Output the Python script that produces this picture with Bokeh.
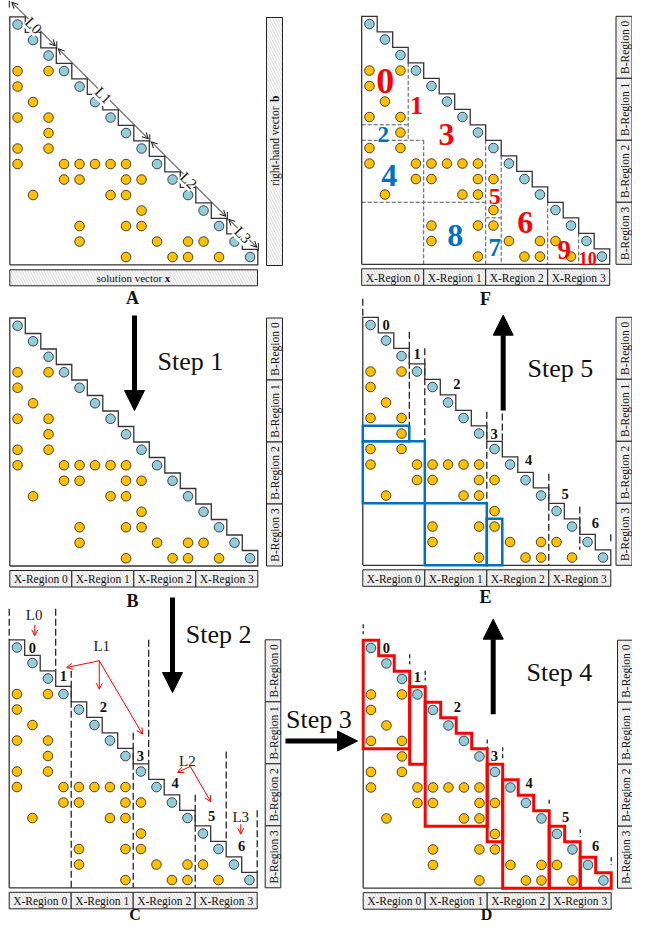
import numpy as np
from bokeh.plotting import figure
from bokeh.models import Range1d, Arrow, NormalHead, OpenHead, Label
from bokeh.core.properties import value
from bokeh.embed import file_html
from bokeh.resources import INLINE

# ---------------- data ----------------
n_size = 16
diag_rows = [0, 1, 2, 3, 4, 5, 6, 7, 8, 9, 10, 11, 12, 13, 14, 15]
diag_cols = [0, 1, 2, 3, 4, 5, 6, 7, 8, 9, 10, 11, 12, 13, 14, 15]
off_rows = [3, 3, 4, 5, 6, 6, 7, 8, 8, 9, 9, 9, 9, 9, 9, 10, 10, 10, 10,
            11, 11, 11, 12, 13, 13, 13, 14, 14, 14, 14, 15, 15, 15, 15]
off_cols = [0, 2, 0, 1, 0, 2, 2, 0, 2, 0, 3, 4, 5, 6, 7, 3, 4, 7, 8,
            1, 6, 7, 8, 4, 7, 8, 4, 9, 11, 12, 7, 10, 11, 13]

x_region_labels = ["X-Region 0", "X-Region 1", "X-Region 2", "X-Region 3"]
b_region_labels = ["B-Region 0", "B-Region 1", "B-Region 2", "B-Region 3"]
region_bounds = [0, 4, 8, 12, 16]

level_labels = ["L0", "L1", "L2", "L3"]
level_bounds = [0, 3, 9, 14, 16]

block_labels = ["0", "1", "2", "3", "4", "5", "6"]
block_col_start = [0, 3, 4, 8, 9, 12, 14]
block_col_end = [3, 4, 8, 9, 12, 14, 16]
block_row_end = [7, 8, 12, 13, 16, 16, 16]

e_col0 = [0, 0, 4, 8]
e_col1 = [3, 4, 8, 9]
e_row0 = [7, 8, 12, 13]
e_row1 = [8, 12, 16, 16]

f_labels = ["0", "1", "2", "3", "4", "5", "6", "7", "8", "9", "10"]
f_kind = ["r", "r", "b", "r", "b", "r", "r", "b", "b", "r", "r"]

step_labels = ["Step 1", "Step 2", "Step 3", "Step 4", "Step 5"]
panel_letters = ["A", "B", "C", "D", "E", "F"]

# ---------------- layout / style ----------------
CELL = 15.5
ORIGIN = {"A": (17.3, 24.3), "B": (17.3, 325.5), "C": (16.7, 647.3),
          "D": (370.7, 647.7), "E": (370.3, 324.8), "F": (369.2, 23.8)}
BCOL = {"A": (274, 290), "B": (274, 290), "C": (272.7, 288.3),
        "D": (625, 640), "E": (623.5, 639.5), "F": (623.5, 639.5)}
LETTER_POS = {"A": (140, 305, 18), "B": (140, 608, 18), "C": (142.5, 921.5, 16),
              "D": (494, 921.5, 16), "E": (493, 604, 18), "F": (493, 306, 18)}
BLOCK_LABEL_POS = [(1.5, 0.5), (3.5, 2.35), (6.07, 4.33), (8.47, 7.5),
                   (10.7, 9.23), (13.06, 11.38), (15.0, 13.3)]
F_POS = [(1.52, 4.16), (3.54, 5.77), (1.39, 7.6), (5.47, 7.6), (1.77, 10.29),
         (8.59, 11.63), (10.55, 13.3), (8.59, 14.92), (6.03, 14.12),
         (13.06, 15.06), (14.59, 15.6)]
F_SIZE = [36, 26, 23, 32, 32, 24, 32, 25, 32, 27, 18]
C_DASH = [(0, -2, 0), (3, -2, 2), (4, 2, 16), (8, 6, 16), (9, 0, 8),
          (12, 10, 16), (14, 7.2, 13), (16, 11, 15)]
E_DASH = [(0, -1.2, 0), (3, 0.93, 7), (4, 2, 8), (8, 6.1, 12), (9, 6.2, 8),
          (12, 10.1, 16), (14, 12.2, 15), (16, 14, 14.5)]
D_DASH = [(0, -1.03, -0.39), (3, 0.9, 1.55), (4, 1.97, 2.6), (8, 6.4, 7.0),
          (9, 6.9, 7.7), (12, 10.3, 10.7), (14, 12.2, 12.7), (16, 14.0, 14.5)]
F_HDASH = [(7, 0, 3), (8, 0, 4), (12, 0, 8), (13, 8, 9)]
F_VDASH = [(3, 3, 8), (4, 8, 16), (8, 8, 16), (9, 9, 16), (12, 12, 16), (14, 14, 16)]
C_LPOS = [(1.61, -1.61), (5.97, 0.39), (11.5, 7.8), (14.94, 11.46)]
C_LARROWS = [(1.65, -0.97, 1.65, -0.26),
             (5.81, 1.35, 3.7, 1.79), (5.81, 1.35, 5.81, 3.19), (5.81, 1.35, 8.6, 6.09),
             (11.68, 8.17, 10.86, 8.56), (11.68, 8.17, 13.0, 10.45),
             (14.94, 11.9, 14.94, 12.54)]
STEP_ARROWS = [(142, 323, 142, 418), (180, 605, 180, 700), (293, 748.5, 365, 748.5),
               (500.7, 721.7, 500.7, 626.7), (510.7, 418, 510.7, 322.7)]
STEP_TEXT = [(165, 369), (193.3, 641.5), (293.5, 726.7), (534, 680), (535, 376)]

ORANGE = "#FFC000"
LBLUE = "#93CDDD"
EDGE = "#1a1a1a"
RED = "#FF0000"
BLUE = "#0070C0"
SERIF = "Liberation Serif"
DOT = 9.6


def gx(pn, c):
    return ORIGIN[pn][0] + np.asarray(c, dtype=float) * CELL


def gy(pn, r):
    return ORIGIN[pn][1] + np.asarray(r, dtype=float) * CELL


p = figure(width=632, height=922, x_range=Range1d(8, 640), y_range=Range1d(930, 8),
           output_backend="svg", toolbar_location=None, min_border=0,
           x_axis_location=None, y_axis_location=None)
p.xgrid.visible = False
p.ygrid.visible = False
p.outline_line_color = None
p.background_fill_color = "white"

HATCH = dict(fill_color="white", line_color="#222222", line_width=1,
             hatch_pattern="\\", hatch_color="#b5b5b5", hatch_scale=5.5, hatch_weight=0.6)


def txt(x, y, t, size, bold=False, color="#111111", align="center",
        baseline="middle", angle=0.0):
    p.text(x=list(np.atleast_1d(x)), y=list(np.atleast_1d(y)), text=list(np.atleast_1d(t)),
           text_font=value(SERIF), text_font_size=f"{size}px",
           text_font_style="bold" if bold else "normal", text_color=color,
           text_align=align, text_baseline=baseline, angle=angle)


def outline(pn, color="#333333"):
    cx, cy = [0, 0], [n_size, 0]
    for i in range(n_size):
        cx += [i + 1, i + 1]
        cy += [i, i + 1]
    cx.append(0)
    cy.append(n_size)
    p.line(gx(pn, cx), gy(pn, cy), line_color=color, line_width=1.3, line_join="miter")


def dots(pn):
    p.scatter(gx(pn, np.array(off_cols) + 0.5), gy(pn, np.array(off_rows) + 0.5),
              size=DOT, fill_color=ORANGE, line_color=EDGE, line_width=0.8)
    p.scatter(gx(pn, np.array(diag_cols) + 0.5), gy(pn, np.array(diag_rows) + 0.5),
              size=DOT, fill_color=LBLUE, line_color=EDGE, line_width=0.8)


def x_boxes(pn):
    b = np.array(region_bounds)
    left, right = gx(pn, b[:-1]), gx(pn, b[1:])
    top = float(gy(pn, n_size)) + 4.5
    bot = top + 16.5
    p.quad(left=left, right=right, top=[top] * 4, bottom=[bot] * 4, **HATCH)
    txt((left + right) / 2, [(top + bot) / 2 + 0.5] * 4, x_region_labels, 11.5)


def b_boxes(pn):
    b = np.array(region_bounds)
    x0, x1 = BCOL[pn]
    top, bot = gy(pn, b[:-1]), gy(pn, b[1:])
    p.quad(left=[x0] * 4, right=[x1] * 4, top=top, bottom=bot, **HATCH)
    txt([(x0 + x1) / 2 + 0.5] * 4, (top + bot) / 2, b_region_labels, 11.5, angle=np.pi / 2)


def dashes(pn, segs, color="#111111", dash="7 3", width=1.2):
    cols = np.array([s[0] for s in segs], dtype=float)
    r0 = np.array([s[1] for s in segs], dtype=float)
    r1 = np.array([s[2] for s in segs], dtype=float)
    p.segment(gx(pn, cols), gy(pn, r0), gx(pn, cols), gy(pn, r1),
              line_color=color, line_dash=dash, line_width=width)


def block_labels_draw(pn):
    for lab, (c, r) in zip(block_labels, BLOCK_LABEL_POS):
        txt(gx(pn, c), gy(pn, r), lab, 14.5, bold=True)


# ---------------- Panel A ----------------
pn = "A"
x0, x1 = float(gx(pn, 0)), float(gx(pn, n_size))
ybot = float(gy(pn, n_size))
p.quad(left=[x0], right=[x1 - 0.3], top=[ybot + 5], bottom=[ybot + 21], **HATCH)
txt(104, ybot + 13.5, "solution vector", 11, align="left")
txt(172.2, ybot + 13.5, "x", 11, bold=True, align="left")
p.quad(left=[BCOL[pn][0]], right=[BCOL[pn][1]], top=[25], bottom=[273], **HATCH)
txt(282.5, 193.5, "right-hand vector", 11.5, align="left", angle=np.pi / 2)
txt(282.5, 109.5, "b", 11.5, bold=True, align="left", angle=np.pi / 2)
outline(pn)
dots(pn)
# level arrows along the diagonal
for k, lab in enumerate(level_labels):
    a, b = level_bounds[k], level_bounds[k + 1]
    xs = float(gx(pn, a)) + 2.0
    xe = float(gx(pn, b)) - 1.0
    off = 16.5 + ORIGIN[pn][0] - ORIGIN[pn][1]
    p.add_layout(Arrow(start=OpenHead(size=6, line_color="#111111", line_width=1),
                       end=OpenHead(size=6, line_color="#111111", line_width=1),
                       x_start=xs, y_start=xs - off, x_end=xe, y_end=xe - off,
                       line_color="#111111", line_width=1))
    xt = float(gx(pn, b)) + 0.5
    p.segment([xt], [xt - off - 6], [xt], [xt - off + 2], line_color="#111111", line_width=1)
    xm = (xs + xe) / 2
    p.add_layout(Label(x=xm, y=xm - off + 1.5, text=lab, angle=-np.pi / 4,
                       text_font=SERIF, text_font_size="15px", text_color="#111111",
                       text_align="center", text_baseline="middle",
                       background_fill_color="white"))
p.segment([float(gx(pn, 0)) - 0.5], [8], [float(gx(pn, 0)) - 0.5], [15],
          line_color="#111111", line_width=1)

# ---------------- Panel B ----------------
pn = "B"
outline(pn)
dots(pn)
x_boxes(pn)
b_boxes(pn)

# ---------------- Panel C ----------------
pn = "C"
dashes(pn, C_DASH)
outline(pn)
dots(pn)
x_boxes(pn)
b_boxes(pn)
block_labels_draw(pn)
for lab, (c, r) in zip(level_labels, C_LPOS):
    txt(gx(pn, c), gy(pn, r), lab, 15, color="#222222")
for (c0, r0, c1, r1) in C_LARROWS:
    p.add_layout(Arrow(end=OpenHead(size=6, line_color=RED, line_width=1),
                       x_start=float(gx(pn, c0)), y_start=float(gy(pn, r0)),
                       x_end=float(gx(pn, c1)), y_end=float(gy(pn, r1)),
                       line_color=RED, line_width=1))

# ---------------- Panel D ----------------
pn = "D"
dashes(pn, D_DASH, dash="4 3")
outline(pn)
xs_list, ys_list = [], []
for a, b, e in zip(block_col_start, block_col_end, block_row_end):
    cx, cy = [a], [a]
    for j in range(a, b):
        cx += [j + 1, j + 1]
        cy += [j, j + 1]
    cx[-1:] = [b]
    cy[-1:] = [e]
    cx.append(a)
    cy.append(e)
    xs_list.append(list(gx(pn, cx)))
    ys_list.append(list(gy(pn, cy)))
p.patches(xs_list, ys_list, fill_color=None, line_color=RED, line_width=3, line_join="miter")
dots(pn)
x_boxes(pn)
b_boxes(pn)
block_labels_draw(pn)

# ---------------- Panel E ----------------
pn = "E"
dashes(pn, E_DASH)
outline(pn)
p.quad(left=gx(pn, e_col0), right=gx(pn, e_col1), top=gy(pn, e_row0), bottom=gy(pn, e_row1),
       fill_color=None, line_color=BLUE, line_width=2.5, line_join="miter")
dots(pn)
x_boxes(pn)
b_boxes(pn)
block_labels_draw(pn)

# ---------------- Panel F ----------------
pn = "F"
hr = np.array([s[0] for s in F_HDASH], dtype=float)
p.segment(gx(pn, [s[1] for s in F_HDASH]), gy(pn, hr), gx(pn, [s[2] for s in F_HDASH]), gy(pn, hr),
          line_color="#555555", line_dash="4 2", line_width=1)
vc = np.array([s[0] for s in F_VDASH], dtype=float)
p.segment(gx(pn, vc), gy(pn, [s[1] for s in F_VDASH]), gx(pn, vc), gy(pn, [s[2] for s in F_VDASH]),
          line_color="#555555", line_dash="4 2", line_width=1)
outline(pn)
dots(pn)
x_boxes(pn)
b_boxes(pn)
for lab, kind, (c, r), sz in zip(f_labels, f_kind, F_POS, F_SIZE):
    txt(gx(pn, c), gy(pn, r), lab, sz, bold=True, color=RED if kind == "r" else BLUE)

# ---------------- panel letters and steps ----------------
for lab in panel_letters:
    x, y, sz = LETTER_POS[lab]
    txt(x, y, lab, sz, bold=True)

for (xa, ya, xb, yb), lab, (tx, ty) in zip(STEP_ARROWS, step_labels, STEP_TEXT):
    p.add_layout(Arrow(end=NormalHead(size=20, fill_color="black", line_color="black"),
                       x_start=xa, y_start=ya, x_end=xb, y_end=yb,
                       line_color="black", line_width=5))
    txt(tx, ty, lab, 26, align="left", baseline="alphabetic")

open("out.html", "w").write(file_html(p, INLINE))
